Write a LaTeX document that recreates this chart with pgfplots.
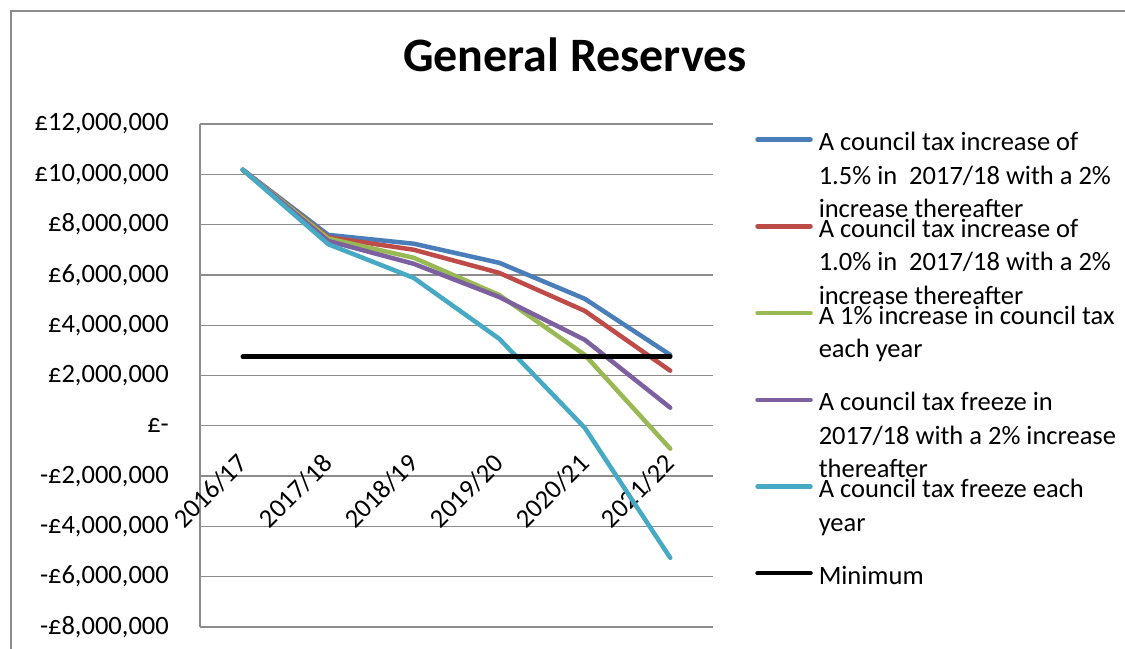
\documentclass[border=0pt]{standalone}
\usepackage{fontspec}
\setmainfont{Carlito}
\usepackage{pgfplots}
\pgfplotsset{compat=1.18}
\definecolor{sBlue}{HTML}{4A7EBB}
\definecolor{sRed}{HTML}{BE4B48}
\definecolor{sGreen}{HTML}{98B954}
\definecolor{sPurple}{HTML}{7D60A0}
\definecolor{sCyan}{HTML}{46AAC5}
\definecolor{gridc}{HTML}{8C8C8C}
\newcommand{\lgd}[1]{\parbox[t]{330bp}{\fontsize{26.5bp}{33.5bp}\selectfont\raggedright #1}}
\begin{document}
\begin{tikzpicture}
\useasboundingbox (0,0) rectangle (1125bp,649bp);
\draw[gridc, line width=2bp] (11bp,-5bp) -- (11bp,638bp) -- (1130bp,638bp);
\begin{axis}[
  at={(200bp,22bp)}, anchor=south west,
  width=513bp, height=503bp, scale only axis,
  xmin=-0.5, xmax=5.5, ymin=-8, ymax=12,
  xtick={0,1,2,3,4,5},
  xticklabels={2016/17,2017/18,2018/19,2019/20,2020/21,2021/22},
  ytick={-8,-6,-4,-2,0,2,4,6,8,10,12},
  yticklabels={{-£8,000,000},{-£6,000,000},{-£4,000,000},{-£2,000,000},{£-\hspace{11bp}},{£2,000,000},{£4,000,000},{£6,000,000},{£8,000,000},{£10,000,000},{£12,000,000}},
  axis x line*=middle, axis y line*=left,
  axis line style={gridc, line width=1.3bp},
  ymajorgrids, grid style={gridc, line width=1.3bp},
  major tick length=0pt,
  tick label style={font=\fontsize{26.5bp}{30bp}\selectfont, text=black},
  yticklabel style={anchor=east, inner sep=0pt, xshift=-31bp},
  xticklabel style={rotate=45, anchor=east, inner sep=0pt},
  xticklabel shift=33bp,
  title={General Reserves},
  title style={font=\bfseries\fontsize{48bp}{58bp}\selectfont, at={(0.731,1.0915)}, anchor=base, inner sep=0pt},
  every axis plot/.append style={line width=4.5bp, line join=round, line cap=round},
  legend image code/.code={\draw[#1] (0bp,11bp) -- (53bp,11bp);},
  legend style={at={(1.082,0.987)}, anchor=north west, draw=none, fill=none,
    inner sep=0pt, row sep=0pt, column sep=6bp,
    font=\fontsize{26.5bp}{33.5bp}\selectfont,
    nodes={inner sep=0pt, anchor=base west, text height=20bp, text depth=66.7bp}},
]
\addplot[sBlue] coordinates {(0,10.18) (1,7.59) (2,7.24) (3,6.48) (4,5.05) (5,2.82)};
\addlegendentry{\lgd{A council tax increase of\\1.5\% in~~2017/18 with a 2\%\\increase thereafter}}
\addplot[sRed] coordinates {(0,10.18) (1,7.50) (2,7.00) (3,6.08) (4,4.57) (5,2.19)};
\addlegendentry{\lgd{A council tax increase of\\1.0\% in~~2017/18 with a 2\%\\increase thereafter}}
\addplot[sGreen] coordinates {(0,10.18) (1,7.45) (2,6.68) (3,5.20) (4,2.82) (5,-0.91)};
\addlegendentry{\lgd{A 1\% increase in council tax\\each year}}
\addplot[sPurple] coordinates {(0,10.18) (1,7.35) (2,6.44) (3,5.12) (4,3.42) (5,0.72)};
\addlegendentry{\lgd{A council tax freeze in\\2017/18 with a 2\% increase\\thereafter}}
\addplot[sCyan] coordinates {(0,10.18) (1,7.22) (2,5.88) (3,3.46) (4,-0.08) (5,-5.25)};
\addlegendentry{\lgd{A council tax freeze each\\year}}
\addplot[black] coordinates {(0,2.75) (5,2.75)};
\addlegendentry{\lgd{Minimum}}
\end{axis}
\end{tikzpicture}
\end{document}
